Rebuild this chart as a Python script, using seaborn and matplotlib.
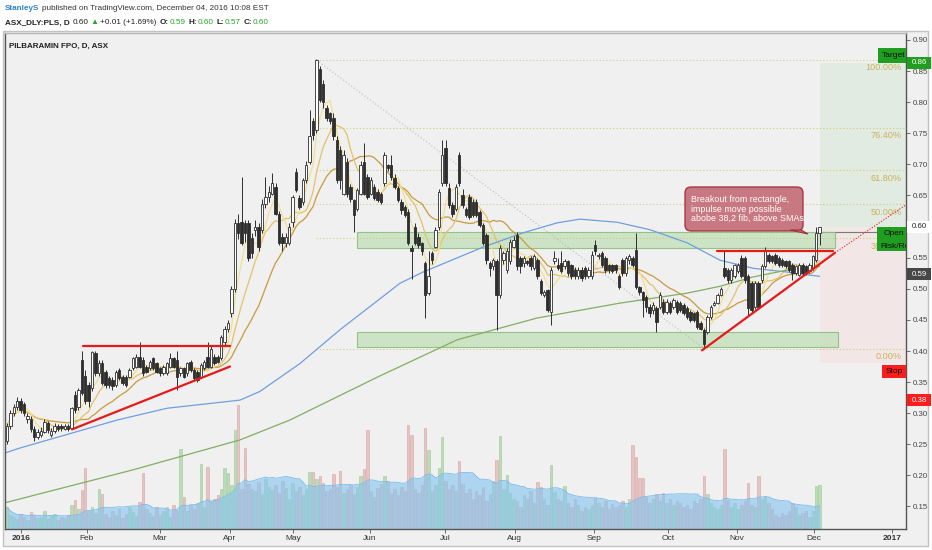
import numpy as np
import pandas as pd
import matplotlib
matplotlib.use("Agg")
import matplotlib.pyplot as plt
import seaborn as sns
from matplotlib.patches import Rectangle, FancyBboxPatch, Polygon
from matplotlib.transforms import IdentityTransform

# ---------------- data ----------------
opens = [
    .255, .28, .30, .31, .32, .315, .29, .29, .275, .262,
    .265, .27, .285, .265, .272, .28, .279, .275, .279, .276,
    .329, .31, .385, .36, .345, .34, .396, .364, .38, .367,
    .356, .353, .345, .369, .359, .359, .359, .372, .375, .391,
    .386, .375, .372, .388, .38, .372, .364, .364, .375, .388,
    .386, .364, .372, .364, .383, .369, .367, .359, .372, .391,
    .375, .391, .391, .388, .415, .435, .461, .50, .605, .608,
    .605, .605, .581, .594, .60, .594, .637, .648, .653, .664,
    .621, .584, .573, .573, .608, .688, .646, .64, .675, .704,
    .769, .755, .854, .83, .79, .782, .775, .74, .723, .653,
    .704, .664, .643, .629, .653, .704, .68, .653, .664, .656,
    .653, .67, .699, .699, .678, .662, .64, .632, .624, .565,
    .60, .584, .573, .541, .493, .557, .568, .60, .67, .726,
    .662, .635, .629, .715, .65, .629, .648, .64, .64, .624,
    .603, .587, .541, .536, .544, .49, .546, .53, .544, .568,
    .587, .549, .541, .544, .549, .533, .546, .512, .49, .498,
    .463, .544, .538, .541, .536, .544, .538, .53, .52, .53,
    .533, .52, .52, .57, .552, .557, .549, .538, .538, .538,
    .52, .546, .525, .546, .549, .562, .503, .495, .487, .471,
    .466, .469, .471, .479, .463, .477, .471, .479, .477, .474,
    .469, .463, .461, .463, .445, .434, .431, .455, .474, .477,
    .49, .533, .53, .514, .52, .528, .549, .549, .52, .509,
    .471, .509, .514, .536, .554, .552, .554, .549, .546, .544,
    .544, .538, .525, .522, .538, .536, .528, .533, .546, .59,
]
highs = [
    .285, .305, .315, .326, .325, .318, .30, .295, .28, .275,
    .278, .29, .288, .276, .284, .283, .282, .282, .282, .31,
    .335, .34, .40, .37, .35, .40, .40, .385, .385, .37,
    .36, .358, .37, .372, .362, .362, .372, .39, .395, .415,
    .39, .378, .386, .39, .383, .375, .378, .383, .396, .39,
    .40, .375, .375, .383, .386, .372, .37, .38, .386, .415,
    .41, .395, .394, .425, .44, .45, .505, .612, .62, .68,
    .61, .61, .59, .61, .605, .645, .68, .665, .686, .67,
    .625, .59, .59, .605, .65, .695, .65, .678, .705, .787,
    .775, .87, .858, .835, .795, .785, .782, .745, .73, .723,
    .71, .668, .645, .662, .705, .734, .685, .68, .668, .66,
    .656, .72, .70, .715, .685, .665, .645, .635, .628, .57,
    .605, .59, .575, .545, .56, .56, .60, .66, .74, .74,
    .67, .64, .668, .72, .66, .632, .652, .645, .645, .627,
    .606, .59, .545, .55, .548, .57, .56, .565, .58, .585,
    .592, .552, .553, .547, .553, .556, .55, .515, .498, .50,
    .535, .56, .55, .56, .548, .547, .54, .535, .535, .535,
    .537, .535, .56, .578, .558, .56, .552, .54, .54, .54,
    .523, .55, .553, .556, .553, .59, .505, .497, .49, .475,
    .478, .472, .495, .483, .483, .48, .485, .482, .48, .477,
    .472, .466, .463, .466, .448, .437, .458, .474, .48, .493,
    .503, .562, .533, .533, .54, .541, .555, .552, .523, .512,
    .512, .512, .54, .568, .557, .555, .557, .552, .549, .547,
    .547, .541, .539, .541, .541, .539, .541, .555, .60, .60,
]
lows = [
    .25, .275, .295, .305, .30, .295, .285, .27, .255, .258,
    .262, .268, .268, .262, .268, .272, .272, .273, .272, .274,
    .30, .305, .33, .315, .31, .335, .36, .36, .345, .34,
    .34, .338, .342, .353, .345, .342, .356, .37, .372, .372,
    .36, .364, .37, .37, .364, .36, .362, .362, .372, .372,
    .337, .36, .356, .36, .366, .353, .35, .356, .37, .372,
    .372, .378, .38, .386, .41, .43, .455, .495, .58, .57,
    .575, .545, .55, .585, .56, .59, .63, .64, .65, .618,
    .57, .56, .568, .57, .60, .655, .628, .635, .67, .70,
    .74, .75, .80, .79, .77, .765, .74, .67, .66, .65,
    .648, .64, .592, .625, .65, .65, .645, .65, .642, .64,
    .637, .665, .69, .675, .66, .64, .62, .615, .57, .515,
    .57, .565, .555, .453, .49, .54, .565, .595, .665, .665,
    .63, .615, .625, .665, .63, .615, .612, .615, .615, .60,
    .57, .54, .52, .53, .434, .485, .54, .525, .54, .565,
    .53, .525, .535, .538, .53, .53, .515, .49, .487, .462,
    .442, .54, .53, .525, .532, .52, .515, .515, .515, .512,
    .515, .517, .515, .555, .548, .535, .525, .525, .525, .525,
    .50, .52, .52, .54, .535, .50, .49, .455, .462, .455,
    .46, .431, .468, .46, .46, .46, .468, .46, .463, .458,
    .452, .447, .447, .436, .433, .404, .428, .452, .472, .475,
    .488, .518, .51, .51, .518, .525, .517, .51, .458, .462,
    .468, .468, .51, .533, .541, .541, .538, .535, .535, .533,
    .527, .514, .522, .52, .522, .522, .525, .53, .543, .57,
]
closes = [
    .28, .30, .31, .32, .305, .30, .296, .275, .262, .27,
    .272, .286, .273, .272, .28, .275, .276, .279, .275, .308,
    .305, .337, .332, .32, .319, .399, .364, .38, .348, .345,
    .345, .343, .367, .356, .348, .345, .369, .388, .391, .375,
    .364, .367, .383, .372, .367, .364, .375, .38, .388, .375,
    .359, .372, .359, .38, .369, .356, .353, .377, .383, .375,
    .404, .38, .383, .423, .435, .445, .50, .605, .59, .573,
    .589, .549, .557, .60, .568, .637, .648, .655, .67, .621,
    .573, .573, .584, .60, .648, .659, .631, .675, .699, .745,
    .747, .868, .804, .801, .774, .769, .745, .675, .675, .715,
    .653, .645, .619, .659, .699, .653, .648, .675, .646, .643,
    .64, .715, .694, .68, .664, .643, .627, .619, .573, .56,
    .573, .57, .56, .49, .52, .546, .595, .655, .715, .67,
    .635, .62, .664, .67, .635, .619, .616, .619, .619, .603,
    .573, .546, .533, .546, .49, .565, .557, .56, .575, .578,
    .536, .536, .549, .541, .536, .552, .52, .493, .495, .466,
    .53, .549, .533, .528, .544, .525, .52, .52, .53, .517,
    .52, .53, .555, .56, .554, .538, .53, .53, .528, .53,
    .503, .525, .549, .552, .538, .503, .495, .482, .471, .461,
    .474, .447, .49, .463, .479, .463, .482, .463, .466, .461,
    .455, .45, .45, .439, .436, .412, .455, .471, .477, .49,
    .50, .52, .514, .53, .538, .538, .52, .514, .469, .466,
    .509, .471, .536, .56, .544, .544, .541, .538, .538, .536,
    .53, .525, .536, .538, .525, .525, .538, .552, .589, .60,
]
volumes = [
    22, 14, 12, 10, 15, 12, 9, 17, 14, 11,
    12, 18, 10, 13, 15, 9, 12, 11, 14, 24,
    29, 20, 39, 61, 18, 22, 16, 40, 35, 15,
    12, 18, 14, 20, 11, 15, 22, 17, 13, 27,
    56, 20, 16, 13, 22, 14, 18, 22, 12, 24,
    19, 80, 32, 18, 24, 20, 26, 65, 22, 62,
    28, 30, 34, 40, 61, 56, 44, 99, 124, 40,
    81, 45, 40, 38, 47, 35, 50, 42, 39, 44,
    36, 48, 41, 30, 46, 38, 42, 34, 40, 57,
    57, 50, 53, 46, 38, 40, 55, 42, 58, 36,
    40, 44, 35, 42, 53, 60, 99, 38, 32, 41,
    45, 53, 48, 36, 40, 34, 42, 38, 104, 94,
    40, 36, 44, 101, 79, 38, 44, 61, 92, 48,
    40, 44, 38, 68, 45, 36, 40, 30, 38, 34,
    42, 28, 35, 48, 69, 93, 40, 54, 36, 30,
    28, 22, 34, 30, 38, 26, 47, 42, 30, 24,
    64, 37, 30, 28, 43, 26, 22, 30, 24, 18,
    22, 20, 24, 31, 26, 22, 28, 20, 25, 22,
    24, 28, 22, 30, 84, 72, 51, 51, 32, 26,
    30, 35, 28, 36, 26, 30, 24, 28, 26, 22,
    24, 20, 28, 26, 30, 53, 35, 26, 22, 20,
    24, 80, 29, 22, 26, 20, 24, 28, 46, 24,
    22, 53, 30, 33, 26, 20, 14, 12, 16, 14,
    18, 26, 22, 14, 16, 18, 12, 18, 43, 44,
]
# longer moving averages (history precedes the visible window) read as waypoints
sma50_x = [-0.6, 3.8, 32.4, 47.1, 68.5, 74.4, 86.2, 97.9, 115.6, 122.4, 140.0,
           151.8, 161.8, 168.5, 179.4, 189.1, 200.0, 209.7, 219.4, 229.4, 239.0]
sma50_y = [.236, .244, .289, .308, .321, .335, .380, .434, .509, .527, .567,
           .590, .606, .612, .607, .595, .574, .546, .533, .527, .520]
sma200_x = [-0.6, 37.1, 68.5, 83.2, 109.7, 132.4, 155.9, 180.3, 200.0, 209.7, 219.4, 229.4, 239.0]
sma200_y = [.156, .209, .257, .289, .360, .418, .453, .477, .493, .504, .519, .530, .536]

month_pos = [4, 23.5, 45, 65.6, 84.1, 106.8, 128.8, 149.4, 172.6, 194.4, 214.7, 237.4, 260.3]
month_labels = ["2016", "Feb", "Mar", "Apr", "May", "Jun", "Jul", "Aug", "Sep", "Oct", "Nov", "Dec", "2017"]

fib_low, fib_high = 0.404, 0.868
fib_ratios = [1.0, 0.764, 0.618, 0.5, 0.382, 0.0]
fib_labels = ["100.00%", "76.40%", "61.80%", "50.00%", "38.20%", "0.00%"]

price_ticks = [0.15, 0.20, 0.25, 0.30, 0.35, 0.40, 0.45, 0.50, 0.55, 0.60, 0.65, 0.70, 0.75, 0.80, 0.85, 0.90]

assert len(opens) == len(highs) == len(lows) == len(closes) == len(volumes) == 240

# ---------------- figure ----------------
sns.set_theme(style="white")
plt.rcParams['font.family'] = ['Liberation Sans', 'DejaVu Sans']

W, H = 932, 550
fig = plt.figure(figsize=(W / 100, H / 100), dpi=100)
fig.patch.set_facecolor('white')


def fx(x):
    return x / W


def fy(y):
    return 1 - y / H


# pixel <-> data helpers for the chart area
def dx(xp):
    return (xp - 7) / 3.4


def dy(yp):
    return 0.90 - (yp - 40) / 622.0


panel = Rectangle((fx(3), fy(546)), fx(928) - fx(3), fy(31) - fy(546), transform=fig.transFigure,
                  fc='#f0f0f0', ec='#c2c2c2', lw=1.0, zorder=-5)
fig.add_artist(panel)

PL, PR, PT, PB = 5, 906, 33, 529
rect = [fx(PL), fy(PB), (PR - PL) / W, (PB - PT) / H]
ax_v = fig.add_axes(rect)
ax = fig.add_axes(rect, sharex=ax_v)
ax.patch.set_visible(False)
ax_v.set_facecolor('#f0f0f0')

N = len(closes)
xb = np.arange(N)
o = np.array(opens)
c = np.array(closes)
hi = np.array(highs)
lo = np.array(lows)
up = c >= o

# ---- volume ----
vol = np.array(volumes, dtype=float)
ax_v.bar(xb, vol, width=0.75, color=np.where(up, '#b3d9ad', '#e6bcbc'),
         edgecolor=np.where(up, '#93c58c', '#d29c9c'), linewidth=0.4, alpha=0.85, zorder=1)
vma = pd.Series(vol).rolling(20, min_periods=1).mean()
ax_v.fill_between(xb, 0, vma, color='#86c5f0', alpha=0.62, lw=0, zorder=2)
sns.lineplot(x=xb, y=vma, ax=ax_v, color='#79bbea', lw=0.6, zorder=3)
ax_v.set_ylim(0, PB - PT)
ax_v.set_yticks([])
for s in ax_v.spines.values():
    s.set_visible(False)

# ---- position tool zones ----
x_right = dx(PR) + 3
ax.add_patch(Rectangle((dx(820), 0.60), x_right - dx(820), 0.863 - 0.60, fc='#e2ebe1', ec='none', zorder=0.5))
ax.add_patch(Rectangle((dx(820), 0.381), x_right - dx(820), 0.60 - 0.381, fc='#f2e6e6', ec='none', zorder=0.5))
ax.hlines(0.591, dx(820), x_right, color='#7a7a7a', lw=0.8, zorder=1)

# ---- rectangles ----
ax.add_patch(Rectangle((dx(357), 0.565), dx(835) - dx(357), 0.591 - 0.565, fc='#c6e1be', ec='#86bd78',
                       lw=0.8, alpha=0.85, zorder=1))
ax.add_patch(Rectangle((dx(357), 0.406), dx(838) - dx(357), 0.431 - 0.406, fc='#c6e1be', ec='#86bd78',
                       lw=0.8, alpha=0.85, zorder=1))

# ---- fib levels ----
span = fib_high - fib_low
for r, lab in zip(fib_ratios, fib_labels):
    lv = fib_low + r * span
    ax.hlines(lv, 91, x_right, color='#cdcd78', lw=0.8, linestyles=(0, (1, 2)), zorder=1)
    ax.annotate(lab, xy=(dx(902), lv), xytext=(0, -2.5), textcoords='offset points', ha='right', va='top',
                color='#c8b25c', fontsize=6.6, zorder=2)
ax.plot([91, 205], [fib_high, fib_low], color='#b9b9b9', lw=0.8, ls=(0, (1, 2)), zorder=1)

# ---- moving averages ----
cs = pd.Series(c)
for w, col in [(20, '#c99a3c'), (10, '#e6c266'), (5, '#f2e08e')]:
    sns.lineplot(x=xb, y=cs.rolling(w, min_periods=1).mean(), ax=ax, color=col, lw=0.9, zorder=2)
sns.lineplot(x=sma50_x, y=sma50_y, ax=ax, color='#6f9ee0', lw=0.9, sort=False, zorder=2)
sns.lineplot(x=sma200_x, y=sma200_y, ax=ax, color='#82ad62', lw=0.9, sort=False, zorder=2)

# ---- candles ----
ax.vlines(xb, lo, hi, color='#2e2e2e', lw=0.7, zorder=3)
body_lo = np.minimum(o, c)
body_h = np.maximum(np.abs(c - o), 0.0025)
ax.bar(xb, body_h, bottom=body_lo, width=0.68, color=np.where(up, 'white', '#2e2e2e'),
       edgecolor='#2e2e2e', linewidth=0.6, zorder=4)

# ---- trend lines ----
red = '#e51b1b'
ax.plot([dx(83), dx(230)], [0.408, 0.408], color=red, lw=1.6, zorder=5)
ax.plot([dx(72), dx(230)], [0.274, 0.375], color=red, lw=1.6, zorder=5)
ax.plot([dx(717), dx(833)], [0.561, 0.561], color=red, lw=1.6, zorder=5)
ax.plot([dx(702), dx(835)], [0.401, 0.558], color=red, lw=1.6, zorder=5)
ax.plot([dx(835), dx(906)], [0.558, 0.635], color=red, lw=0.8, ls=(0, (1, 1.5)), zorder=5)

# ---- position labels inside chart ----
ax.add_patch(Rectangle((dx(878), dy(63)), x_right - dx(878), dy(48) - dy(63), fc='#1f9e1f', ec='none', zorder=6))
ax.text(dx(882), dy(55.5), "Target", fontsize=6.0, color='#111111', va='center', ha='left', clip_on=True, zorder=7)
ax.add_patch(Rectangle((dx(877), dy(251)), x_right - dx(877), dy(227) - dy(251), fc='#1f9e1f', ec='none', zorder=6))
ax.text(dx(884), dy(233.5), "Open", fontsize=6.0, color='#111111', va='center', ha='left', clip_on=True, zorder=7)
ax.text(dx(880), dy(246), "Risk/Re", fontsize=6.0, color='#111111', va='center', ha='left',
        clip_on=True, zorder=7)
ax.add_patch(Rectangle((dx(882), dy(378)), x_right - dx(882), dy(365) - dy(378), fc='#ff1c1c', ec='none', zorder=6))
ax.text(dx(886), dy(371.5), "Stop", fontsize=6.0, color='#111111', va='center', ha='left', clip_on=True,
        zorder=7)

# ---- axes ----
ax.set_xlim(dx(PL), dx(PR))
ax.set_ylim(dy(PB), dy(PT))
ax.yaxis.tick_right()
ax.set_yticks(price_ticks)
ax.set_yticklabels([f"{v:.2f}" for v in price_ticks])
ax.set_xticks(month_pos)
ax.set_xticklabels(month_labels)
for t in ax.get_xticklabels():
    if t.get_text() in ("2016", "2017"):
        t.set_fontweight('bold')
ax.tick_params(axis='x', length=3, width=0.6, color='#555555', labelcolor='#333333', labelsize=6.0, pad=1.5,
               bottom=True)
ax.tick_params(axis='y', length=3, width=0.6, color='#555555', labelcolor='#444444', labelsize=5.7, pad=2,
               right=True, left=False)
ax_v.tick_params(axis='x', bottom=False, labelbottom=False)
for name, s in ax.spines.items():
    s.set_color('#555555' if name != 'top' else '#b5b5b5')
    s.set_linewidth(1.0)
ax.set_xlabel("")
ax.set_ylabel("")
ax_v.set_xlabel("")
ax_v.set_ylabel("")
ax.grid(False)
ax_v.grid(False)

# ---- callout ----
idt = IdentityTransform()
box = FancyBboxPatch((685, H - 231), 803 - 685, 231 - 187, boxstyle="round,pad=0,rounding_size=6",
                     transform=idt, fc='#c46e77', ec='#a52f3a', lw=1.0, alpha=0.92, zorder=8)
fig.add_artist(box)
tail = Polygon([(790, H - 230), (801, H - 230), (808, H - 234)], closed=True, transform=idt,
               fc='#c46e77', ec='#a52f3a', lw=0.8, zorder=8)
fig.add_artist(tail)
for k, line in enumerate(["Breakout from rectangle,", "impulse move possible", "abobe 38,2 fib, above SMAs"]):
    fig.text(fx(691), fy(200 + 9 * k), line, color='white', fontsize=6.4, va='center', ha='left', zorder=9)


# ---- right axis badges ----
def badge(y0, y1, fc, txt, tc):
    fig.add_artist(Rectangle((fx(907), fy(y1)), fx(931) - fx(907), fy(y0) - fy(y1), transform=fig.transFigure,
                             fc=fc, ec='none', zorder=6))
    fig.text(fx(919), fy((y0 + y1) / 2), txt, color=tc, fontsize=5.7, ha='center', va='center', zorder=7)


badge(57, 69, '#1f9e1f', "0.86", 'white')
badge(221, 233, 'white', "0.60", '#222222')
badge(268, 280, '#474747', "0.59", 'white')
badge(394, 406, '#ff1c1c', "0.38", 'white')

# ---- header ----
renderer = fig.canvas.get_renderer()


def rich(x, y, parts, size):
    for s, col, wt, gap in parts:
        t = fig.text(fx(x), fy(y), s, color=col, fontsize=size, fontweight=wt, ha='left', va='center')
        bb = t.get_window_extent(renderer=renderer)
        x += bb.width + gap


rich(5, 8, [("StanleyS", '#2f83c5', 'bold', 2.3),
            ("published on TradingView.com, December 04, 2016 10:08 EST", '#333333', 'normal', 0)], 5.85)
grn = '#29a329'
rich(5, 23, [("ASX_DLY:PLS, D", '#222222', 'bold', 3),
             ("0.60", '#222222', 'normal', 2),
             ("▲", grn, 'normal', 1.5),
             ("+0.01 (+1.69%)", '#222222', 'normal', 3),
             ("O:", '#222222', 'bold', 0.5), ("0.59", grn, 'normal', 3),
             ("H:", '#222222', 'bold', 0.5), ("0.60", grn, 'normal', 3),
             ("L:", '#222222', 'bold', 0.5), ("0.57", grn, 'normal', 3),
             ("C:", '#222222', 'bold', 0.5), ("0.60", grn, 'normal', 0)], 5.85)
fig.text(fx(9), fy(46), "PILBARAMIN FPO, D, ASX", fontsize=5.8, fontweight='bold', color='#222222',
         ha='left', va='center')

fig.savefig('out.png', dpi=100)
